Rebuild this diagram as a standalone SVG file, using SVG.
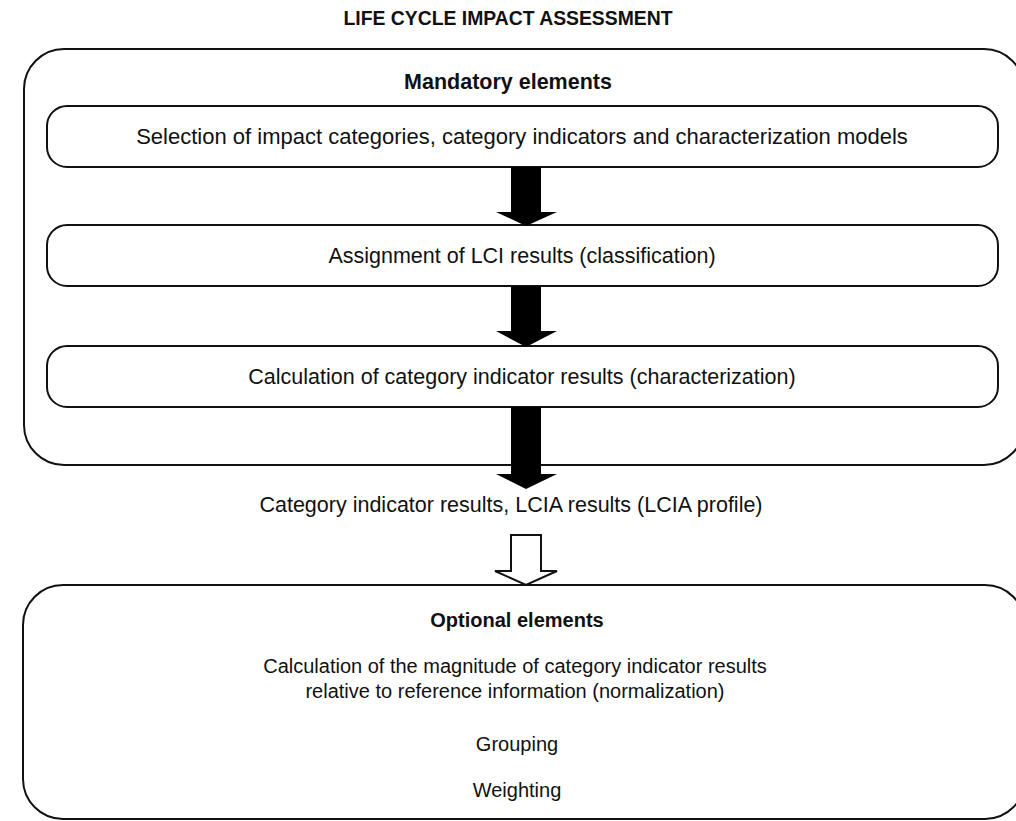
<svg xmlns="http://www.w3.org/2000/svg" width="1016" height="821" viewBox="0 0 1016 821">
  <style>
    .frame { fill: none; stroke: #111; stroke-width: 2; }
    .step { fill: #fff; stroke: #111; stroke-width: 2; }
    .t { font-family: "Liberation Sans", Arial, sans-serif; font-size: 21.5px; fill: #111; text-anchor: middle; }
    .b { font-weight: bold; }
    .head { font-size: 20.5px; }
    .big { font-size: 22px; }
    .opt { font-size: 20px; }
    .solid { fill: #000; stroke: none; }
    .hollow { fill: #fff; stroke: #111; stroke-width: 2; stroke-linejoin: miter; }
  </style>

  <rect width="1016" height="821" fill="#fff"/>

  <!-- condensed bold heading -->
  <text id="title" class="t b head" x="508" y="25" textLength="329" lengthAdjust="spacingAndGlyphs">LIFE CYCLE IMPACT ASSESSMENT</text>

  <!-- mandatory section -->
  <g id="mandatory">
    <rect class="frame" x="24" y="49" width="1000" height="416" rx="40" ry="40"/>
    <text class="t b" x="508" y="89">Mandatory elements</text>
  </g>

  <g id="selection">
    <rect class="step" x="47" y="106" width="951" height="61" rx="20" ry="20"/>
    <text class="t big" x="522" y="144">Selection of impact categories, category indicators and characterization models</text>
  </g>

  <g id="classification">
    <rect class="step" x="47" y="225" width="951" height="61" rx="20" ry="20"/>
    <text class="t" x="522" y="263">Assignment of LCI results (classification)</text>
  </g>

  <g id="characterization">
    <rect class="step" x="47" y="346" width="951" height="61" rx="20" ry="20"/>
    <text class="t" x="522" y="384">Calculation of category indicator results (characterization)</text>
  </g>

  <g id="profile">
    <text class="t" x="511" y="512">Category indicator results, LCIA results (LCIA profile)</text>
  </g>

  <!-- optional section -->
  <g id="optional">
    <rect class="frame" x="23" y="585" width="1002" height="234" rx="40" ry="40"/>
    <text class="t b opt" x="517" y="627">Optional elements</text>
    <text class="t opt" x="515" y="673">Calculation of the magnitude of category indicator results</text>
    <text class="t opt" x="515" y="698">relative to reference information (normalization)</text>
    <text class="t opt" x="517" y="751">Grouping</text>
    <text class="t opt" x="517" y="797">Weighting</text>
  </g>

  <!-- connectors -->
  <g id="connectors">
    <path class="solid" d="M511 167 H541 V212 H557 L526 226 L496 212 H511 Z"/>
    <path class="solid" d="M511 286 H541 V331 H557 L526 347 L496 331 H511 Z"/>
    <path class="solid" d="M511 407 H541 V474 H557 L526 489 L496 474 H511 Z"/>
    <path class="hollow" d="M511 535 H541 V571 H557 L526 585 L495 571 H511 Z"/>
  </g>
</svg>
